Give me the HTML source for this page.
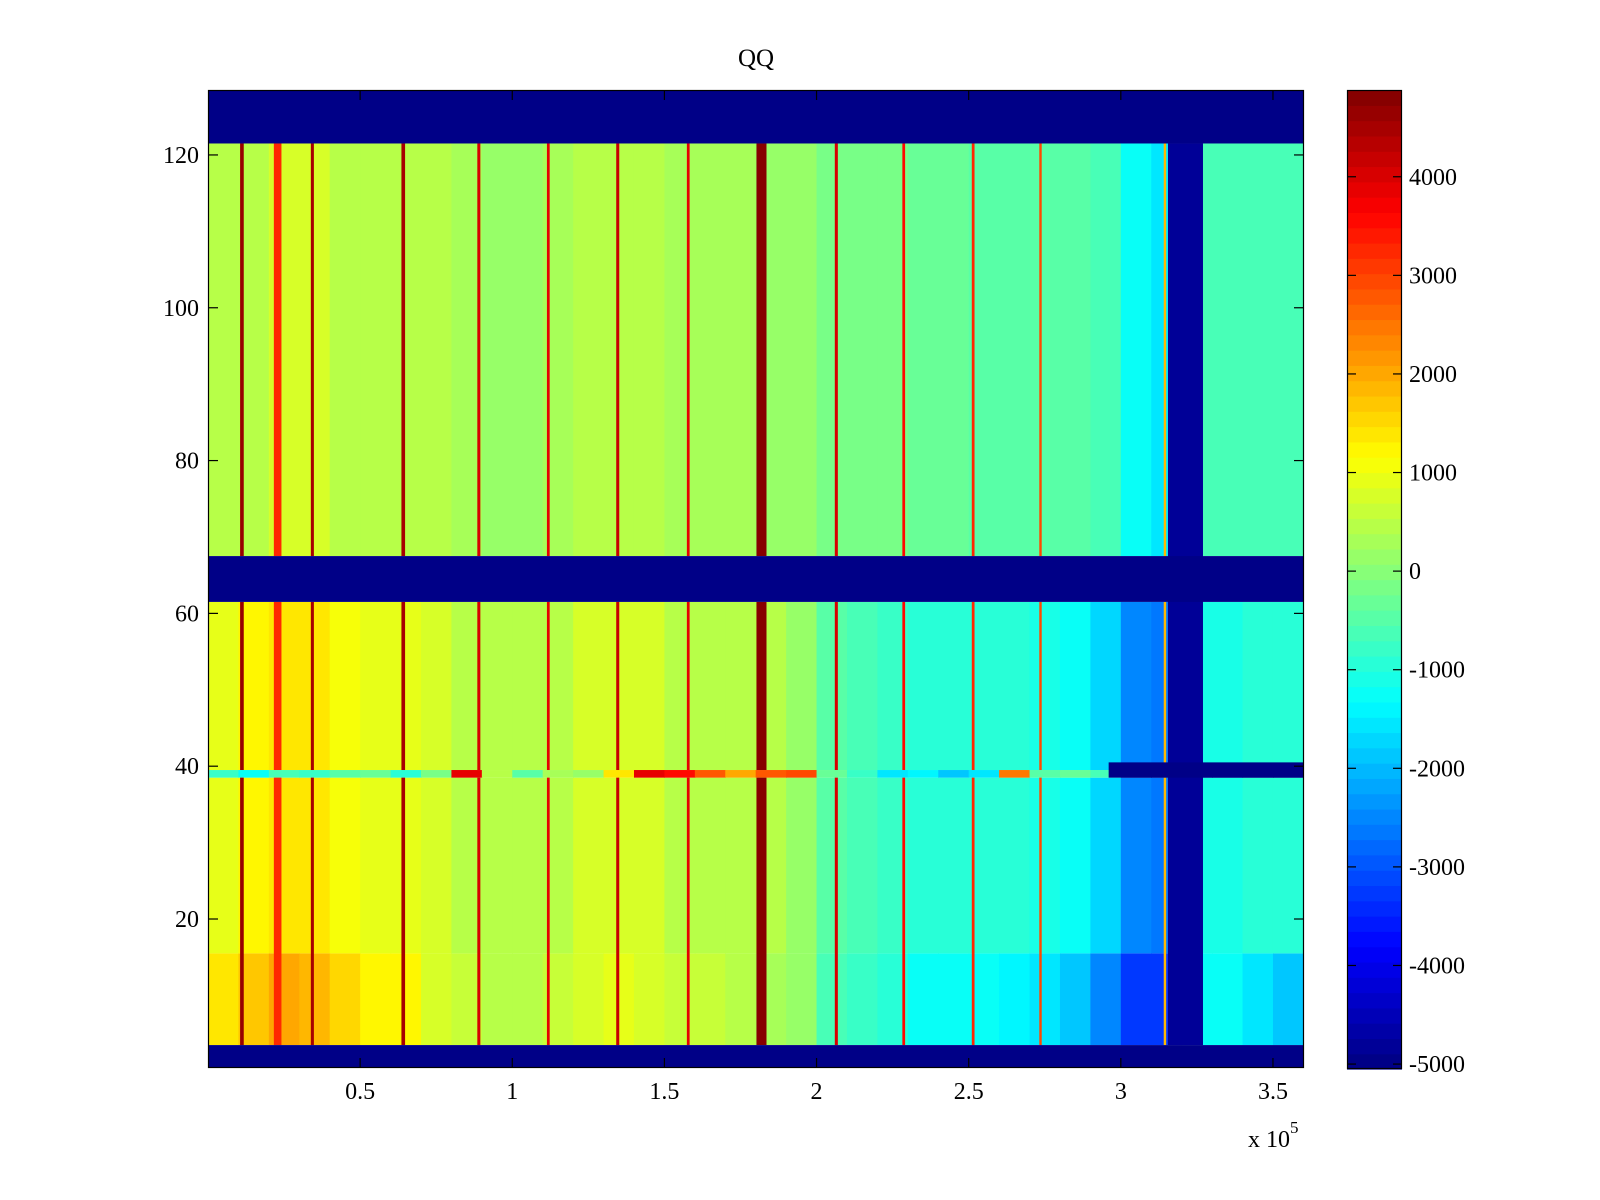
<!DOCTYPE html>
<html><head><meta charset="utf-8"><style>
html,body{margin:0;padding:0;background:#fff;}
svg{display:block;font-family:"Liberation Serif",serif;}
</style></head><body>
<svg id="chart" width="1600" height="1200" viewBox="0 0 1600 1200">
<text x="756" y="66" font-size="25" text-anchor="middle">QQ</text>
<g id="cells"></g>
<g id="axes"></g>
<g id="cbar"></g>
</svg>
<script>
// x bins: 10000 units each, 0 .. 360000
const upperProfile = [400,500,700,700,500,500,500,400,300,200,200,300,400,500,500,300,300,300,200,100,-100,-200,-200,-300,-300,-400,-400,-400,-500,-700,-1300,-1500,-700,-700,-600,-600];
const lowerProfile = [1000,1200,1400,1400,1100,1000,900,700,500,400,400,500,700,800,700,500,500,500,400,200,-400,-600,-800,-900,-900,-1000,-1000,-1100,-1200,-1700,-2500,-2700,-1100,-1100,-1000,-1000];
const bottomProfile = [1400,1700,2000,1900,1500,1300,1200,800,600,500,500,600,800,900,800,600,600,500,300,100,-600,-800,-1000,-1200,-1200,-1300,-1400,-1600,-1900,-2500,-3200,-3300,-1300,-1300,-1600,-1800];
const row39Profile = [-800,-1200,-600,-800,-500,-300,-900,-200,3800,500,-400,300,200,1400,3800,3600,2800,2000,2800,3000,-300,-800,-1600,-1400,-1800,-1500,2500,-400,-300,-700,-5000,-5000,-5000,-5000,-5000,-5000];
const stripeX = [11150,22890,34300,64170,89010,111840,134660,157830,181900,206500,228650,251470,273600,314500];
const stripeVal = [4700,3200,4500,4500,4000,3800,4200,3800,4800,4000,3500,3200,3000,1800];
const stripeSpan = [1200,2500,1000,1200,1000,900,1000,900,3300,1000,900,900,800,800];
const darkColumn = [315500,327000,-4800];
const rightBarStart = 296000;
const rightBarRows = [39,40];
const blankRows = [[1,3],[62,67],[122,128]];
const yTicks = [20,40,60,80,100,120];
const xTicks = [0.5,1,1.5,2,2.5,3,3.5];
const cbTicks = [4000,3000,2000,1000,0,-1000,-2000,-3000,-4000,-5000];
const binWidth = 10000, cmin = -5050, cmax = 4880;

const L=208,R=1304,T=90,B=1068,XMAX=360200;
const NS='http://www.w3.org/2000/svg';
const xs=v=>L+(v/XMAX)*(R-L);
const ys=r=>B-(r-0.5)*((B-T)/128);
function jet(v){
  let t=(v-cmin)/(cmax-cmin); t=Math.max(0,Math.min(1,t));
  t=(Math.min(63,Math.floor(t*64))+0.5)/64;
  const c=x=>Math.round(255*Math.max(0,Math.min(1,x)));
  return `rgb(${c(1.5-Math.abs(4*t-3))},${c(1.5-Math.abs(4*t-2))},${c(1.5-Math.abs(4*t-1))})`;
}
function mk(tag,attrs,parent){const e=document.createElementNS(NS,tag);for(const k in attrs)e.setAttribute(k,attrs[k]);parent.appendChild(e);return e;}
const cells=document.getElementById('cells');
function block(profile,r0,r1,name){
  profile.forEach((v,i)=>{
    const x0=xs(i*binWidth),x1=xs(Math.min(XMAX,(i+1)*binWidth));
    const e=mk('rect',{x:x0,y:ys(r1+0.5),width:x1-x0+0.6,height:ys(r0-0.5)-ys(r1+0.5),fill:jet(v)},cells);
    
    
  });
}
block(bottomProfile,4,15,'bottom-rows');
block(lowerProfile,16,38,'lower-rows');
block(row39Profile,39,39,'row-39');
block(lowerProfile,40,61,'lower-rows');
block(upperProfile,68,121,'upper-rows');
const stripeRanges=[[4,38],[40,61],[68,121]];
stripeX.forEach((sx,i)=>{
  stripeRanges.forEach(rg=>{
    const x0=xs(sx-stripeSpan[i]/2),x1=xs(sx+stripeSpan[i]/2);
    const e=mk('rect',{x:x0,y:ys(rg[1]+0.5),width:x1-x0,height:ys(rg[0]-0.5)-ys(rg[1]+0.5),fill:jet(stripeVal[i])},cells);
    
    
  });
});
{
  const e=mk('rect',{x:xs(darkColumn[0]),y:ys(121.5),width:xs(darkColumn[1])-xs(darkColumn[0]),height:ys(3.5)-ys(121.5),fill:jet(darkColumn[2])},cells);
  
  
}
{
  const e=mk('rect',{x:xs(rightBarStart),y:ys(rightBarRows[1]+0.5),width:R-xs(rightBarStart),height:ys(rightBarRows[0]-0.5)-ys(rightBarRows[1]+0.5),fill:jet(-5050)},cells);
  
  
}
blankRows.forEach(b=>{
  const e=mk('rect',{x:L,y:ys(b[1]+0.5),width:R-L,height:ys(b[0]-0.5)-ys(b[1]+0.5),fill:jet(-5050)},cells);
  
  
});
// axes
const ax=document.getElementById('axes');
{const e=mk('rect',{x:L+0.5,y:T+0.5,width:R-L-1,height:B-T-1,fill:'none',stroke:'#000','stroke-width':1.2},ax);
}
yTicks.forEach(v=>{
  const y=ys(v);
  let e=mk('line',{x1:L,x2:L+10,y1:y,y2:y,stroke:'#000','stroke-width':1.2},ax);
  
  e=mk('line',{x1:R-10,x2:R,y1:y,y2:y,stroke:'#000','stroke-width':1.2},ax);
  
  e=mk('text',{x:L-9,y:y+8,'font-size':24,'text-anchor':'end'},ax);e.textContent=v;
  
});
xTicks.forEach(v=>{
  const x=xs(v*1e5);
  let e=mk('line',{x1:x,x2:x,y1:B,y2:B-10,stroke:'#000','stroke-width':1.2},ax);
  
  e=mk('line',{x1:x,x2:x,y1:T,y2:T+10,stroke:'#000','stroke-width':1.2},ax);
  
  e=mk('text',{x:x,y:1099,'font-size':24,'text-anchor':'middle'},ax);e.textContent=v;
  
});
{const e=mk('text',{x:1248,y:1147,'font-size':24},ax);e.innerHTML='x 10<tspan dy="-14" font-size="17">5</tspan>';
}
// colorbar
const cb=document.getElementById('cbar');
const CL=1347,CR=1402,CT=90,CB=1069;
const cy=v=>CB-(v-cmin)/(cmax-cmin)*(CB-CT);
for(let i=0;i<64;i++){
  const v0=cmin+(cmax-cmin)*i/64,v1=cmin+(cmax-cmin)*(i+1)/64;
  const e=mk('rect',{x:CL,y:cy(v1),width:CR-CL,height:cy(v0)-cy(v1)+0.6,fill:jet((v0+v1)/2)},cb);
  
}
{const e=mk('rect',{x:CL+0.5,y:CT+0.5,width:CR-CL-1,height:CB-CT-1,fill:'none',stroke:'#000','stroke-width':1.2},cb);
}
cbTicks.forEach(v=>{
  const y=cy(v);
  let e=mk('line',{x1:CL,x2:CL+9,y1:y,y2:y,stroke:'#000','stroke-width':1.2},cb);
  
  e=mk('line',{x1:CR-9,x2:CR,y1:y,y2:y,stroke:'#000','stroke-width':1.2},cb);
  
  e=mk('text',{x:1409,y:y+8,'font-size':24},cb);e.textContent=v;
  
});
</script>
</body></html>
